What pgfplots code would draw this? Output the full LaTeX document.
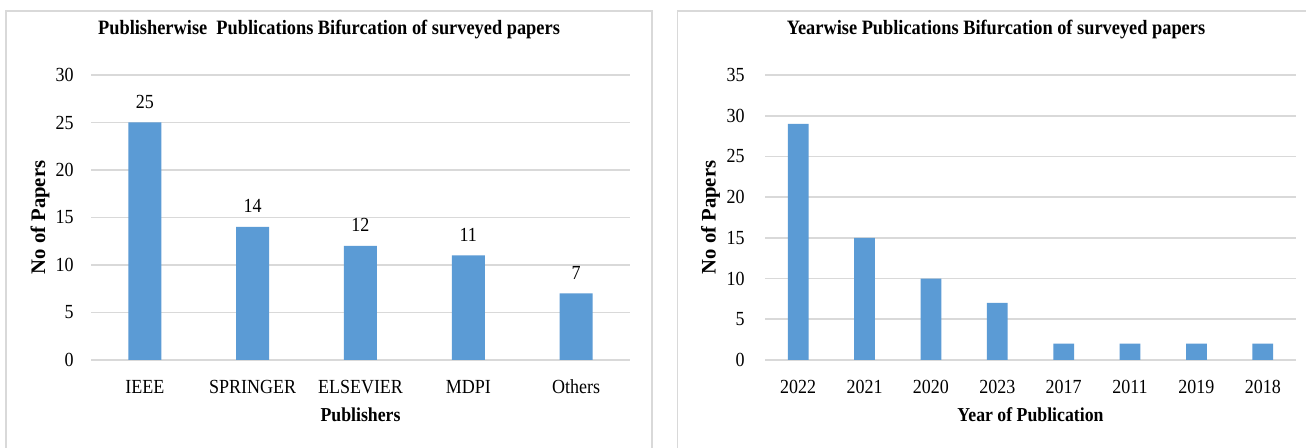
\documentclass[border=0pt]{standalone}
\usepackage{fontspec}
\setmainfont{Liberation Serif}[FakeStretch=0.9]
\newfontfamily\rotfont{Liberation Serif}
\usepackage{pgfplots}
\pgfplotsset{compat=1.18}
\definecolor{barblue}{HTML}{5B9BD5}
\definecolor{gridgray}{HTML}{D9D9D9}
\pgfplotsset{common/.style={
  scale only axis, ybar, ymin=0,
  axis line style={draw=none},
  major tick length=0pt,
  ymajorgrids,
  grid style={gridgray, line width=1.2pt},
  /pgf/number format/assume math mode=true,
  tick label style={font=\fontsize{15}{18}\selectfont},
  xtick=data,
  xticklabel style={inner sep=0pt, anchor=base, yshift=-25pt},
  title style={anchor=center, font=\bfseries\fontsize{15.3}{18}\selectfont},
  xlabel style={at={(axis description cs:0.5,-0.193)}, anchor=center, font=\bfseries\fontsize{14.8}{17}\selectfont},
  ylabel style={anchor=center, font=\rotfont\bfseries\fontsize{15.5}{18}\selectfont},
  height=213.75pt,
}}
\begin{document}
\begin{tikzpicture}
\fill[white] (0,0) rectangle (979.5pt,336pt);
\path[use as bounding box] (0,0) rectangle (979.5pt,336pt);
\draw[gridgray, line width=1.1pt] (4.5pt,-5pt) -- (4.5pt,327.75pt) -- (489pt,327.75pt) -- (489pt,-5pt);
\draw[gridgray, line width=1.1pt] (508.1pt,-5pt) -- (508.1pt,327.75pt) -- (985pt,327.75pt);

\begin{axis}[common,
  at={(68.25pt,66pt)}, anchor=south west,
  width=404.25pt,
  xmin=-0.5, xmax=4.5, ymax=30, ytick={0,5,...,30},
  yticklabel style={inner sep=0pt, xshift=-12.75pt},
  bar width=24.75pt,
  xticklabels={IEEE,SPRINGER,ELSEVIER,MDPI,Others},
  nodes near coords,
  nodes near coords style={font=\fontsize{15}{18}\selectfont, anchor=south, inner sep=0pt, yshift=10.3pt},
  title={Publisherwise\ \ Publications Bifurcation of surveyed papers},
  title style={at={(axis description cs:0.4416,1.1298)}},
  xlabel={Publishers},
  ylabel={No of Papers},
  ylabel style={at={(axis description cs:-0.0946,0.5)}},
]
\addplot[fill=barblue, draw=none] coordinates {(0,25) (1,14) (2,12) (3,11) (4,7)};
\end{axis}

\begin{axis}[common,
  at={(573.75pt,66pt)}, anchor=south west,
  width=398.25pt,
  xmin=-0.5, xmax=7.5, ymax=35, ytick={0,5,...,35},
  yticklabel style={inner sep=0pt, xshift=-15pt},
  bar width=15.5pt,
  xticklabels={2022,2021,2020,2023,2017,2011,2019,2018},
  title={Yearwise Publications Bifurcation of surveyed papers},
  title style={at={(axis description cs:0.435,1.1298)}},
  xlabel={Year of Publication},
  ylabel={No of Papers},
  ylabel style={at={(axis description cs:-0.1024,0.5)}},
]
\addplot[fill=barblue, draw=none] coordinates {(0,29) (1,15) (2,10) (3,7) (4,2) (5,2) (6,2) (7,2)};
\end{axis}
\end{tikzpicture}
\end{document}
